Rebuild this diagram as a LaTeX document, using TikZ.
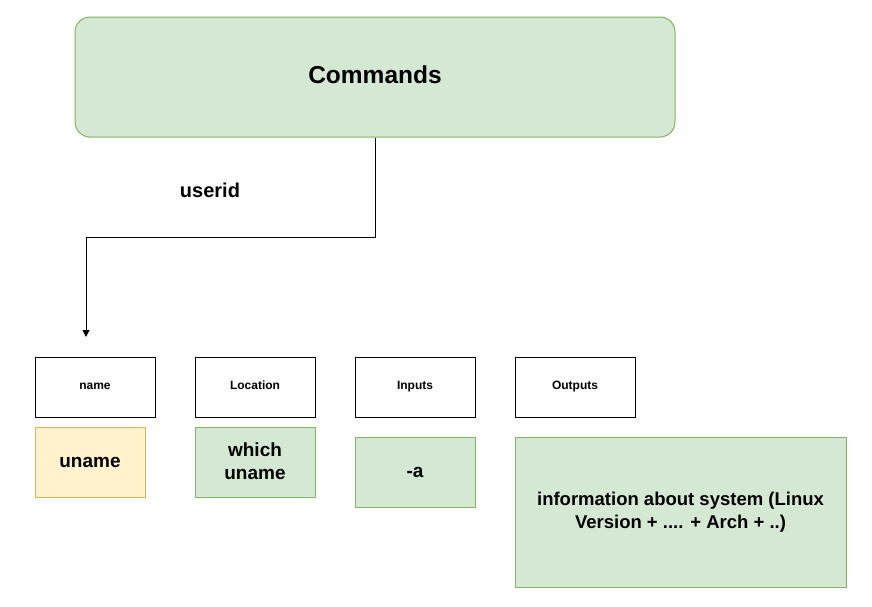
\documentclass[tikz,border=0pt]{standalone}
\usepackage{fontspec}
\setmainfont{Liberation Sans}
\definecolor{gfill}{HTML}{D5E8D4}
\definecolor{gdraw}{HTML}{82B366}
\definecolor{yfill}{HTML}{FFF2CC}
\definecolor{ydraw}{HTML}{D6B656}
\usetikzlibrary{arrows.meta}
\begin{document}
\begin{tikzpicture}[x=1pt,y=-1pt,
  hdr/.style={draw=black,line width=1pt,fill=white,minimum width=120pt,minimum height=60pt,inner sep=0pt,text height=8.6pt,text depth=4pt,font=\fontsize{12}{14}\selectfont\bfseries},
  gbox/.style={draw=gdraw,fill=gfill,line width=1pt,inner sep=0pt,align=center,font=\fontsize{19}{23}\selectfont\bfseries},
  ybox/.style={draw=ydraw,fill=yfill,line width=1pt,inner sep=0pt,align=center,font=\fontsize{19}{23}\selectfont\bfseries},
  conn/.style={draw=black,line width=1pt,-{Triangle[length=7pt,width=7pt]}}]
\useasboundingbox (0,0) rectangle (872,606);
\node[gbox,rounded corners=15pt,minimum width=600pt,minimum height=120pt,text height=17.5pt,text depth=4pt,font=\fontsize{24.5}{28}\selectfont\bfseries] (cmd) at (375,77) {Commands};
\node[font=\fontsize{20}{24}\selectfont\bfseries] (uid) at (210,190) {userid};
\node[hdr] (hname) at (95,387) {name};
\node[hdr] (hloc) at (255,387) {Location};
\node[hdr] (hin) at (415,387) {Inputs};
\node[hdr] (hout) at (575,387) {Outputs};
\node[ybox,minimum width=110pt,minimum height=70pt] (uname) at (90,462) {uname};
\node[gbox,minimum width=120pt,minimum height=70pt] (which) at (255,462) {\raisebox{2pt}{which}\\\raisebox{2pt}{uname}};
\node[gbox,minimum width=120pt,minimum height=70pt] (arg) at (415,472) {-a};
\node[gbox,minimum width=331pt,minimum height=150pt,font=\fontsize{18.5}{23}\selectfont\bfseries] (info) at (680.5,512) {\raisebox{2pt}{information about system (Linux}\\\raisebox{2pt}{Version + .... + Arch + ..)}};
\coordinate (tip) at (86,337);
\draw[conn] (cmd.south) -- (375,237) -- (86,237) -- (tip);
\end{tikzpicture}
\end{document}
